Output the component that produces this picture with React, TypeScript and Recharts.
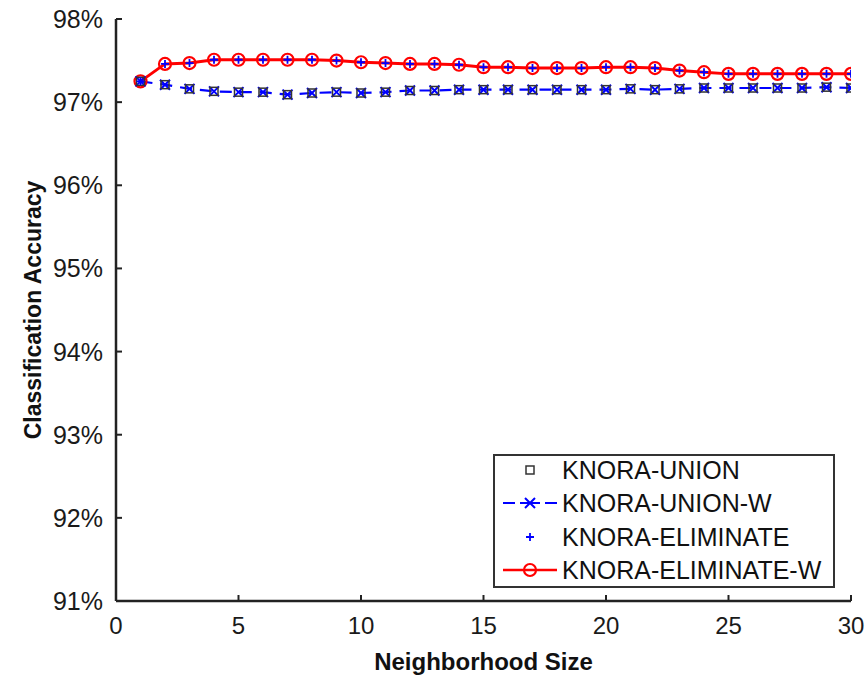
import React from 'react';
import { LineChart, Line, XAxis, YAxis } from 'recharts';

const neighborhoodSizes = [1, 2, 3, 4, 5, 6, 7, 8, 9, 10, 11, 12, 13, 14, 15, 16, 17, 18, 19, 20, 21, 22, 23, 24, 25, 26, 27, 28, 29, 30];

const knoraUnion = [97.25, 97.21, 97.16, 97.13, 97.12, 97.12, 97.09, 97.11, 97.12, 97.11, 97.12, 97.14, 97.14, 97.15, 97.15, 97.15, 97.15, 97.15, 97.15, 97.15, 97.16, 97.15, 97.16, 97.17, 97.17, 97.17, 97.17, 97.17, 97.18, 97.17];
const knoraUnionW = [97.25, 97.21, 97.16, 97.13, 97.12, 97.12, 97.09, 97.11, 97.12, 97.11, 97.12, 97.14, 97.14, 97.15, 97.15, 97.15, 97.15, 97.15, 97.15, 97.15, 97.16, 97.15, 97.16, 97.17, 97.17, 97.17, 97.17, 97.17, 97.18, 97.17];
const knoraEliminate = [97.25, 97.46, 97.47, 97.51, 97.51, 97.51, 97.51, 97.51, 97.5, 97.48, 97.47, 97.46, 97.46, 97.45, 97.42, 97.42, 97.41, 97.41, 97.41, 97.42, 97.42, 97.41, 97.38, 97.36, 97.34, 97.34, 97.34, 97.34, 97.34, 97.34];
const knoraEliminateW = [97.25, 97.46, 97.47, 97.51, 97.51, 97.51, 97.51, 97.51, 97.5, 97.48, 97.47, 97.46, 97.46, 97.45, 97.42, 97.42, 97.41, 97.41, 97.41, 97.42, 97.42, 97.41, 97.38, 97.36, 97.34, 97.34, 97.34, 97.34, 97.34, 97.34];

const xTicks = [0, 5, 10, 15, 20, 25, 30];
const yTicks = [91, 92, 93, 94, 95, 96, 97, 98];

const seriesNames = ['KNORA-UNION', 'KNORA-UNION-W', 'KNORA-ELIMINATE', 'KNORA-ELIMINATE-W'];

const data = neighborhoodSizes.map((k, i) => ({
  k,
  union: knoraUnion[i],
  unionW: knoraUnionW[i],
  elim: knoraEliminate[i],
  elimW: knoraEliminateW[i],
}));

const FONT = '"Liberation Sans", Arial, Helvetica, sans-serif';
const AXIS_COLOR = '#222';

const SquareDot = (p: any) => (
  <rect key={`sq-${p.index}`} x={p.cx - 4} y={p.cy - 4} width={8} height={8} fill="none" stroke="#333" strokeWidth={1.5} />
);
const CrossDot = (p: any) => (
  <path key={`x-${p.index}`} d={`M${p.cx - 5},${p.cy - 5}L${p.cx + 5},${p.cy + 5}M${p.cx - 5},${p.cy + 5}L${p.cx + 5},${p.cy - 5}`} stroke="#0000ff" strokeWidth={2} fill="none" />
);
const PlusDot = (p: any) => (
  <path key={`p-${p.index}`} d={`M${p.cx - 4},${p.cy}L${p.cx + 4},${p.cy}M${p.cx},${p.cy - 4}L${p.cx},${p.cy + 4}`} stroke="#0000ff" strokeWidth={1.8} fill="none" />
);
const CircleDot = (p: any) => (
  <circle key={`c-${p.index}`} cx={p.cx} cy={p.cy} r={6} fill="none" stroke="#ff0000" strokeWidth={2.2} />
);

const LeftTick = (p: any) => {
  const axisX = p.x + 13;
  return (
    <g>
      <line x1={axisX} x2={axisX + 6} y1={p.y} y2={p.y} stroke={AXIS_COLOR} strokeWidth={2} />
      <text x={p.x} y={p.y} dy="0.36em" textAnchor="end" fontSize={25} fontFamily={FONT} fill="#1a1a1a">
        {`${p.payload.value}%`}
      </text>
    </g>
  );
};

const BottomTick = (p: any) => {
  const axisY = p.y;
  return (
    <g>
      <line x1={p.x} x2={p.x} y1={axisY} y2={axisY - 6} stroke={AXIS_COLOR} strokeWidth={2} />
      <text x={p.x} y={axisY + 24} dy="0.36em" textAnchor="middle" fontSize={24} fontFamily={FONT} fill="#1a1a1a">
        {p.payload.value}
      </text>
    </g>
  );
};

const RightTick = (p: any) => (
  <line x1={p.x} x2={p.x - 6} y1={p.y} y2={p.y} stroke={AXIS_COLOR} strokeWidth={2} />
);

const LegendBox = () => {
  const rows = [16, 49, 83, 116];
  const textX = 69;
  const iconC = 37;
  return (
    <svg width={342} height={134} style={{ display: 'block' }}>
      <rect x={1} y={1} width={340} height={132} fill="#fff" stroke="#333" strokeWidth={2} />
      <rect x={iconC - 4} y={rows[0] - 4} width={8} height={8} fill="none" stroke="#333" strokeWidth={1.5} />
      <line x1={10} x2={22} y1={rows[1]} y2={rows[1]} stroke="#0000ff" strokeWidth={2} />
      <line x1={27} x2={47} y1={rows[1]} y2={rows[1]} stroke="#0000ff" strokeWidth={2} />
      <line x1={52} x2={64} y1={rows[1]} y2={rows[1]} stroke="#0000ff" strokeWidth={2} />
      <path d={`M${iconC - 5},${rows[1] - 5}L${iconC + 5},${rows[1] + 5}M${iconC - 5},${rows[1] + 5}L${iconC + 5},${rows[1] - 5}`} stroke="#0000ff" strokeWidth={2} />
      <path d={`M${iconC - 4},${rows[2]}L${iconC + 4},${rows[2]}M${iconC},${rows[2] - 4}L${iconC},${rows[2] + 4}`} stroke="#0000ff" strokeWidth={1.8} />
      <line x1={10} x2={64} y1={rows[3]} y2={rows[3]} stroke="#ff0000" strokeWidth={2.5} />
      <circle cx={iconC} cy={rows[3]} r={6} fill="none" stroke="#ff0000" strokeWidth={2.2} />
      {seriesNames.map((n, i) => (
        <text key={n} x={textX} y={rows[i]} dy="0.36em" fontSize={25} fontFamily={FONT} fill="#111">
          {n}
        </text>
      ))}
    </svg>
  );
};

export default function App() {
  return (
    <div style={{ position: 'absolute', left: 0, top: 0, width: 868, height: 675, background: '#fff' }}>
      <LineChart width={868} height={675} data={data} margin={{ top: 19, right: 17, bottom: 0, left: 0 }}>
        <XAxis
          dataKey="k"
          type="number"
          domain={[0, 30]}
          ticks={xTicks}
          allowDataOverflow
          height={74}
          tickLine={false}
          tickSize={0}
          tickMargin={0}
          tick={<BottomTick />}
          axisLine={{ stroke: AXIS_COLOR, strokeWidth: 2.5 }}
          label={{ value: 'Neighborhood Size', position: 'insideBottom', offset: 5, style: { fontSize: 24, fontWeight: 'bold', fontFamily: FONT, fill: '#111' } }}
        />
        <XAxis
          xAxisId="top"
          orientation="top"
          dataKey="k"
          type="number"
          domain={[0, 30]}
          ticks={xTicks}
          height={0}
          tick={false}
          tickLine={false}
          axisLine={{ stroke: AXIS_COLOR, strokeWidth: 2.5 }}
        />
        <YAxis
          type="number"
          domain={[91, 98]}
          ticks={yTicks}
          allowDataOverflow
          width={116}
          tickLine={false}
          tickSize={0}
          tickMargin={13}
          tick={<LeftTick />}
          axisLine={{ stroke: AXIS_COLOR, strokeWidth: 2.5 }}
          label={{ value: 'Classification Accuracy', angle: -90, position: 'insideLeft', offset: 33, style: { textAnchor: 'middle', fontSize: 23, fontWeight: 'bold', fontFamily: FONT, fill: '#111' } }}
        />
        <YAxis
          yAxisId="right"
          orientation="right"
          type="number"
          domain={[91, 98]}
          ticks={yTicks}
          allowDataOverflow
          width={0}
          tickLine={false}
          tickSize={0}
          tickMargin={0}
          tick={<RightTick />}
          axisLine={{ stroke: AXIS_COLOR, strokeWidth: 2.5 }}
        />
        <Line dataKey="elimW" stroke="#ff0000" strokeWidth={3} dot={CircleDot} activeDot={false} isAnimationActive={false} />
        <Line dataKey="unionW" stroke="#0000ff" strokeWidth={2.2} strokeDasharray="12 8" dot={CrossDot} activeDot={false} isAnimationActive={false} />
        <Line dataKey="union" stroke="none" dot={SquareDot} activeDot={false} isAnimationActive={false} />
        <Line dataKey="elim" stroke="none" dot={PlusDot} activeDot={false} isAnimationActive={false} />
      </LineChart>
      <div style={{ position: 'absolute', left: 493, top: 454, width: 342, height: 134 }}>
        <LegendBox />
      </div>
    </div>
  );
}
